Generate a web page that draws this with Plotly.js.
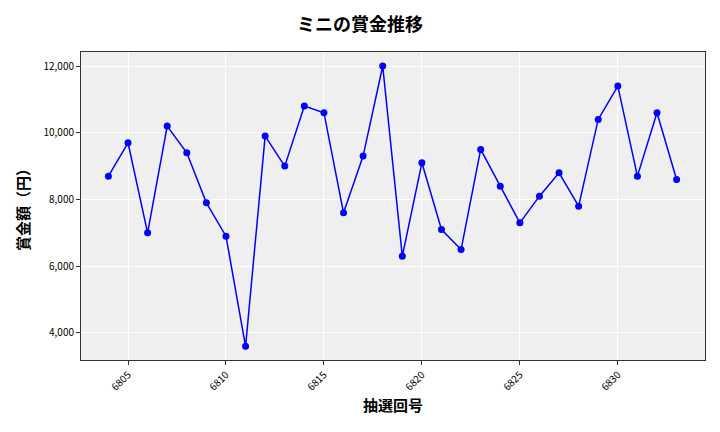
<!DOCTYPE html>
<html>
<head>
<meta charset="utf-8">
<script src="https://cdn.plot.ly/plotly-3.0.1.min.js"></script>
<style>
  html, body { margin: 0; padding: 0; background: #fff; }
  #chart { width: 720px; height: 432px; }
</style>
</head>
<body>
<div id="chart"></div>
<script>
// draw numbers
const draws = [
	6804, 6805, 6806, 6807, 6808, 6809, 6810, 6811, 6812, 6813,
	6814, 6815, 6816, 6817, 6818, 6819, 6820, 6821, 6822, 6823,
	6824, 6825, 6826, 6827, 6828, 6829, 6830, 6831, 6832, 6833,
];
// prize amounts (yen)
const prizes = [
	8700, 9700, 7000, 10200, 9400, 7900, 6900, 3600, 9900, 9000,
	10800, 10600, 7600, 9300, 12000, 6300, 9100, 7100, 6500, 9500,
	8400, 7300, 8100, 8800, 7800, 10400, 11400, 8700, 10600, 8600,
];
const xTicks = [6805, 6810, 6815, 6820, 6825, 6830];
const yTicks = [4000, 6000, 8000, 10000, 12000];

const font = "'Noto Sans CJK JP', 'Noto Sans', sans-serif";

const data = [
	{
		x: draws,
		y: prizes,
		type: "scatter",
		mode: "lines+markers",
		line: { color: "#0000ff", width: 1.5 },
		marker: { color: "#0000ff", size: 7 },
	},
];

const layout = {
	width: 720,
	height: 432,
	paper_bgcolor: "#ffffff",
	plot_bgcolor: "#efefef",
	showlegend: false,
	margin: { l: 81, r: 15, t: 52, b: 72 },
	font: { family: font, color: "#000" },
	title: {
		text: "<b>ミニの賞金推移</b>",
		font: { family: font, size: 18, color: "#000" },
		x: 0.5,
		xanchor: "center",
		y: 0.942,
		yanchor: "middle",
	},
	xaxis: {
		range: [6802.6, 6834.45],
		tickvals: xTicks,
		ticktext: xTicks.map(String),
		tickangle: -45,
		tickfont: { size: 10 },
		ticks: "outside",
		ticklen: 4,
		tickcolor: "#333",
		showgrid: true,
		gridcolor: "#ffffff",
		gridwidth: 1,
		zeroline: false,
		showline: true,
		linecolor: "#333",
		linewidth: 1,
		mirror: true,
		title: { text: "<b>抽選回号</b>", font: { size: 15 }, standoff: 8 },
	},
	yaxis: {
		range: [3190, 12420],
		tickvals: yTicks,
		ticktext: yTicks.map((v) => v.toLocaleString("en-US")),
		tickfont: { size: 10 },
		ticks: "outside",
		ticklen: 4,
		tickcolor: "#333",
		showgrid: true,
		gridcolor: "#ffffff",
		gridwidth: 1,
		zeroline: false,
		showline: true,
		linecolor: "#333",
		linewidth: 1,
		mirror: true,
		title: { text: "<b>賞金額（円）</b>", font: { size: 15 }, standoff: 10 },
	},
};

const config = { displayModeBar: false, staticPlot: true };

Plotly.newPlot("chart", data, layout, config);
</script>
</body>
</html>
